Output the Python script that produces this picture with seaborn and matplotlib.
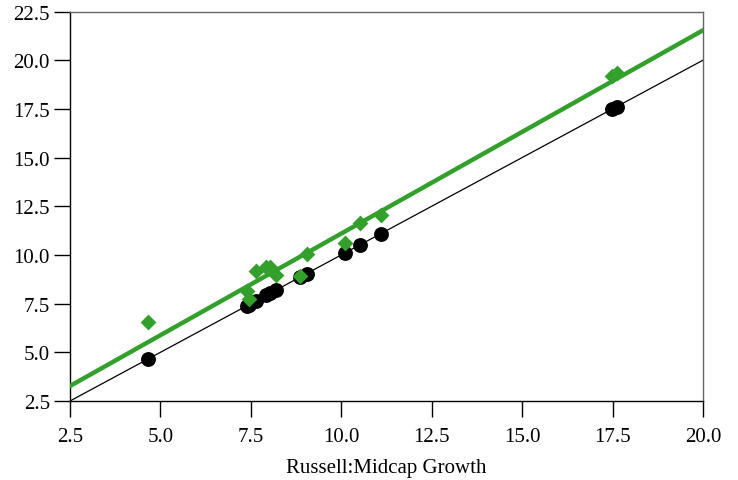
import matplotlib
matplotlib.use("Agg")
import matplotlib.pyplot as plt
import seaborn as sns
import numpy as np
import pandas as pd

# Data
bench_x = [4.67, 7.39, 7.45, 7.64, 7.92, 8.03, 8.2, 8.86, 9.04, 10.1, 10.52, 11.1, 17.48, 17.62]
bench_y = [4.67, 7.39, 7.45, 7.64, 7.92, 8.03, 8.2, 8.86, 9.04, 10.1, 10.52, 11.1, 17.48, 17.62]
fund_y = [6.55, 8.16, 7.72, 9.18, 9.39, 9.39, 8.98, 8.91, 10.05, 10.6, 11.66, 12.06, 19.21, 19.36]

x_ticks = [2.5, 5.0, 7.5, 10.0, 12.5, 15.0, 17.5, 20.0]
y_ticks = [2.5, 5.0, 7.5, 10.0, 12.5, 15.0, 17.5, 20.0, 22.5]
x_label = "Russell:Midcap Growth"

df = pd.DataFrame({"x": bench_x, "bench": bench_y, "fund": fund_y})

sns.set_style("ticks")
plt.rcParams["font.family"] = ["Liberation Serif", "DejaVu Serif"]
plt.rcParams.update({
    "xtick.bottom": True, "ytick.left": True,
    "xtick.major.size": 11.5, "ytick.major.size": 11.5,
    "xtick.major.width": 1.0, "ytick.major.width": 1.0,
    "xtick.color": "black", "ytick.color": "black",
    "xtick.direction": "out", "ytick.direction": "out",
})

fig = plt.figure(figsize=(7.38, 4.81), dpi=100)
ax = fig.add_axes([70 / 738, 1 - 402 / 481, (703 - 70) / 738, (402 - 12.5) / 481])
ax.set_xlim(2.5, 20.0)
ax.set_ylim(2.5, 22.5)

green = "#33a02c"
sns.regplot(data=df, x="x", y="bench", ax=ax, ci=None, truncate=False,
            scatter_kws=dict(s=115, color="black", marker="o", linewidths=0, alpha=1, zorder=3),
            line_kws=dict(color="black", lw=0.9, zorder=2))
sns.regplot(data=df, x="x", y="fund", ax=ax, ci=None, truncate=False,
            marker="D",
            scatter_kws=dict(s=65, color=green, linewidths=0, alpha=1, zorder=4),
            line_kws=dict(color=green, lw=3.2, zorder=3))

ax.set_xlim(2.5, 20.0)
ax.set_ylim(2.5, 22.5)
ax.set_xticks(x_ticks)
ax.set_yticks(y_ticks)
ax.set_xticklabels([f"{t:.1f}" for t in x_ticks])
ax.set_yticklabels([f"{t:.1f}" for t in y_ticks])
ax.set_xlabel(x_label, fontsize=15, labelpad=9, color="black")
ax.set_ylabel("")

ax.tick_params(axis="x", labelsize=15, pad=7, colors="black")
ax.tick_params(axis="y", labelsize=15, pad=3, colors="black")
for s in ["left", "bottom"]:
    ax.spines[s].set_color("black")
    ax.spines[s].set_linewidth(1.0)
for s in ["top", "right"]:
    ax.spines[s].set_visible(True)
    ax.spines[s].set_color("#666666")
    ax.spines[s].set_linewidth(1.0)
ax.grid(False)

fig.savefig("out.png", dpi=100)
